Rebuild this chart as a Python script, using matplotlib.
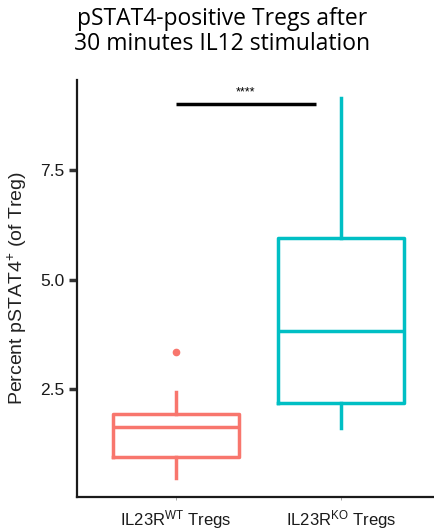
import matplotlib
matplotlib.use("Agg")
import matplotlib.pyplot as plt

# Data
groups = ["WT", "KO"]
xlabels = [r"IL23R$^{\mathrm{WT}}$ Tregs", r"IL23R$^{\mathrm{KO}}$ Tregs"]
colors = ["#F8766D", "#00BFC4"]
whislo = [0.49, 1.62]
q1 = [0.95, 2.19]
med = [1.64, 3.84]
q3 = [1.93, 5.95]
whishi = [2.44, 9.14]
fliers = [[3.36], []]
sig_y = 9.0
sig_label = "****"
yticks = [2.5, 5.0, 7.5]
ytick_labels = ["2.5", "5.0", "7.5"]

plt.rcParams["mathtext.fontset"] = "custom"
plt.rcParams["mathtext.rm"] = "Liberation Sans"
plt.rcParams["mathtext.it"] = "Liberation Sans:italic"

fig = plt.figure(figsize=(4.35, 5.31), dpi=100)
W, H = 435, 531
left, right, bottom, top = 77, 440, 497, 80
ax = fig.add_axes([left / W, 1 - bottom / H, (right - left) / W, (bottom - top) / H])

lw = 2.5
for i in range(2):
    stats = [dict(whislo=whislo[i], q1=q1[i], med=med[i], q3=q3[i], whishi=whishi[i], fliers=fliers[i])]
    ax.bxp(stats, positions=[i + 1], widths=0.76, showcaps=False, patch_artist=False,
           boxprops=dict(color=colors[i], linewidth=lw),
           whiskerprops=dict(color=colors[i], linewidth=lw),
           medianprops=dict(color=colors[i], linewidth=lw),
           flierprops=dict(marker="o", markerfacecolor=colors[i], markeredgecolor=colors[i], markersize=4.5),
           manage_ticks=False)

ax.plot([1, 1.85], [sig_y, sig_y], color="black", linewidth=2.5, solid_capstyle="butt")
ax.text(1.42, sig_y + 0.12, sig_label, ha="center", va="bottom", fontsize=9, family="Liberation Sans")

ax.set_xlim(0.4, 2.6)
ax.set_ylim(0.05, 9.55)
ax.set_xticks([1, 2])
ax.set_xticklabels(xlabels, fontsize=12, family="Liberation Sans", color="#1a1a1a")
ax.set_yticks(yticks)
ax.set_yticklabels(ytick_labels, fontsize=12.5, family="Liberation Sans", color="#1a1a1a")
ax.tick_params(axis="y", length=6, width=2.5, color="#333333", pad=3)
ax.tick_params(axis="x", length=2, width=0.6, color="#999999", pad=6)
for s in ["top", "right"]:
    ax.spines[s].set_visible(False)
for s in ["left", "bottom"]:
    ax.spines[s].set_linewidth(1.6)
    ax.spines[s].set_color("#1a1a1a")

ax.set_ylabel(r"Percent pSTAT4$^{+}$ (of Treg)", fontsize=14, family="Liberation Sans",
              labelpad=8, color="#222222")
fig.text(222 / W, 1 - 7 / H, "pSTAT4-positive Tregs after\n30 minutes IL12 stimulation",
         ha="center", va="top", fontsize=16.5, family="Open Sans", linespacing=1.05)

fig.savefig("out.png", dpi=100)
